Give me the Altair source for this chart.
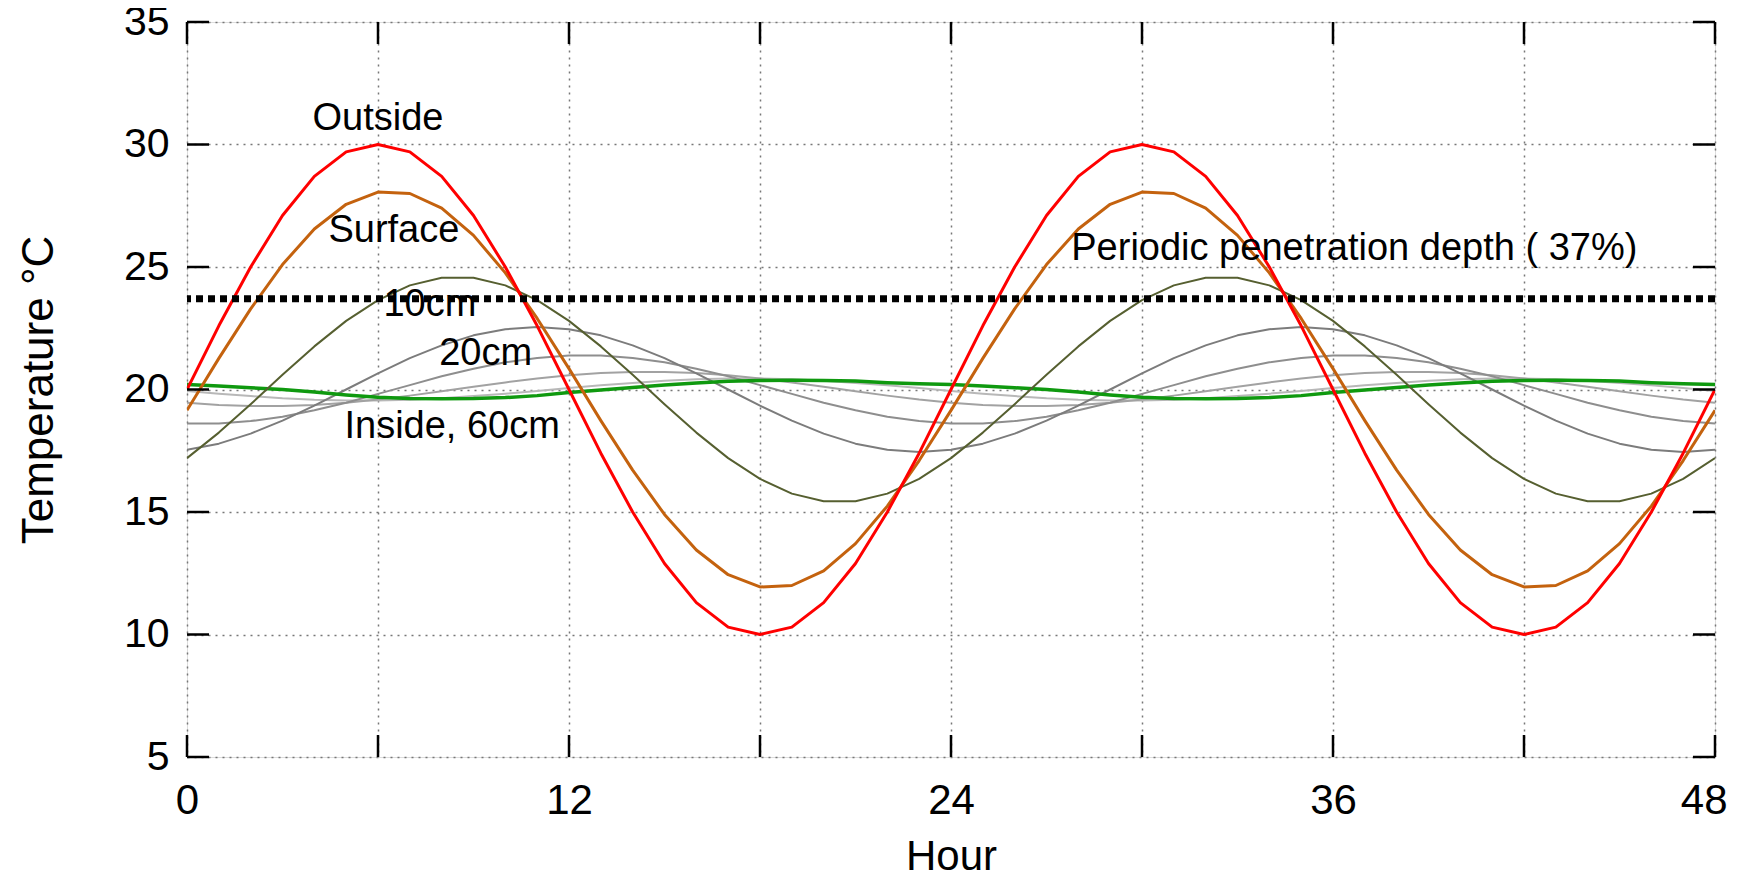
import altair as alt
import pandas as pd

# ---------------- data ----------------
hours = list(range(49))

outside = [20.0, 22.6, 25.0, 27.1, 28.7, 29.7, 30.0, 29.7, 28.7, 27.1, 25.0, 22.6,
           20.0, 17.4, 15.0, 12.9, 11.3, 10.3, 10.0, 10.3, 11.3, 12.9, 15.0, 17.4,
           20.0, 22.6, 25.0, 27.1, 28.7, 29.7, 30.0, 29.7, 28.7, 27.1, 25.0, 22.6,
           20.0, 17.4, 15.0, 12.9, 11.3, 10.3, 10.0, 10.3, 11.3, 12.9, 15.0, 17.4,
           20.0]

surface = [19.15, 21.27, 23.29, 25.10, 26.55, 27.56, 28.06, 28.00, 27.40, 26.29, 24.76, 22.90,
           20.85, 18.73, 16.71, 14.90, 13.45, 12.44, 11.94, 12.00, 12.60, 13.71, 15.24, 17.10,
           19.15, 21.27, 23.29, 25.10, 26.55, 27.56, 28.06, 28.00, 27.40, 26.29, 24.76, 22.90,
           20.85, 18.73, 16.71, 14.90, 13.45, 12.44, 11.94, 12.00, 12.60, 13.71, 15.24, 17.10,
           19.15]

cm10 = [17.20, 18.24, 19.40, 20.60, 21.76, 22.80, 23.65, 24.25, 24.56, 24.56, 24.25, 23.65,
        22.80, 21.76, 20.60, 19.40, 18.24, 17.20, 16.35, 15.75, 15.44, 15.44, 15.75, 16.35,
        17.20, 18.24, 19.40, 20.60, 21.76, 22.80, 23.65, 24.25, 24.56, 24.56, 24.25, 23.65,
        22.80, 21.76, 20.60, 19.40, 18.24, 17.20, 16.35, 15.75, 15.44, 15.44, 15.75, 16.35,
        17.20]

cm20 = [17.54, 17.79, 18.20, 18.73, 19.34, 20.00, 20.66, 21.28, 21.80, 22.21, 22.46, 22.55,
        22.46, 22.21, 21.80, 21.28, 20.66, 20.00, 19.34, 18.73, 18.20, 17.79, 17.54, 17.45,
        17.54, 17.79, 18.20, 18.73, 19.34, 20.00, 20.66, 21.28, 21.80, 22.21, 22.46, 22.55,
        22.46, 22.21, 21.80, 21.28, 20.66, 20.00, 19.34, 18.73, 18.20, 17.79, 17.54, 17.45,
        17.54]

cm30 = [18.61, 18.61, 18.71, 18.89, 19.15, 19.46, 19.82, 20.18, 20.54, 20.85, 21.11, 21.29,
        21.39, 21.39, 21.29, 21.11, 20.85, 20.54, 20.18, 19.82, 19.46, 19.15, 18.89, 18.71,
        18.61, 18.61, 18.71, 18.89, 19.15, 19.46, 19.82, 20.18, 20.54, 20.85, 21.11, 21.29,
        21.39, 21.39, 21.29, 21.11, 20.85, 20.54, 20.18, 19.82, 19.46, 19.15, 18.89, 18.71,
        18.61]

cm40 = [19.46, 19.37, 19.33, 19.33, 19.37, 19.46, 19.59, 19.75, 19.93, 20.11, 20.29, 20.45,
        20.58, 20.67, 20.71, 20.71, 20.67, 20.58, 20.45, 20.29, 20.11, 19.93, 19.75, 19.59,
        19.46, 19.37, 19.33, 19.33, 19.37, 19.46, 19.59, 19.75, 19.93, 20.11, 20.29, 20.45,
        20.58, 20.67, 20.71, 20.71, 20.67, 20.58, 20.45, 20.29, 20.11, 19.93, 19.75, 19.59,
        19.46]

cm50 = [19.94, 19.83, 19.73, 19.64, 19.58, 19.55, 19.55, 19.58, 19.64, 19.73, 19.83, 19.94,
        20.06, 20.17, 20.27, 20.36, 20.42, 20.45, 20.45, 20.42, 20.36, 20.27, 20.17, 20.06,
        19.94, 19.83, 19.73, 19.64, 19.58, 19.55, 19.55, 19.58, 19.64, 19.73, 19.83, 19.94,
        20.06, 20.17, 20.27, 20.36, 20.42, 20.45, 20.45, 20.42, 20.36, 20.27, 20.17, 20.06,
        19.94]

cm60 = [20.20, 20.14, 20.07, 20.00, 19.90, 19.78, 19.68, 19.63, 19.62, 19.63, 19.67, 19.75,
        19.88, 19.98, 20.08, 20.18, 20.27, 20.34, 20.37, 20.38, 20.37, 20.35, 20.28, 20.23,
        20.20, 20.14, 20.07, 20.00, 19.90, 19.78, 19.68, 19.63, 19.62, 19.63, 19.67, 19.75,
        19.88, 19.98, 20.08, 20.18, 20.27, 20.34, 20.37, 20.38, 20.37, 20.35, 20.28, 20.23,
        20.20]

penetration_level = [23.70]

label_text = ["Outside", "Surface", "10cm", "20cm", "Inside, 60cm",
              "Periodic penetration depth ( 37%)"]
label_hour = [6.0, 6.5, 7.63, 9.38, 8.33, 36.67]
label_temp = [31.05, 26.48, 23.43, 21.45, 18.48, 25.73]

x_ticks = [0, 6, 12, 18, 24, 30, 36, 42, 48]
y_ticks = [5, 10, 15, 20, 25, 30, 35]

# ---------------- styles ----------------
W, H = 1528, 735
FONT = "Liberation Sans"

series = [  # (values, colour, width) in drawing order
    (cm50, "#b8b8b8", 2.0),
    (cm40, "#a2a2a2", 2.0),
    (cm30, "#8e8e8e", 2.0),
    (cm20, "#7c7c7c", 2.0),
    (cm60, "#0f990f", 3.5),
    (cm10, "#565f30", 2.0),
    (surface, "#c4620e", 3.0),
    (outside, "#ff0000", 3.0),
]

xs = alt.Scale(domain=[0, 48], nice=False, zero=False)
ys = alt.Scale(domain=[5, 35], nice=False, zero=False)

x_axis = alt.Axis(values=x_ticks, title="Hour",
                  labelExpr="datum.value % 12 == 0 ? datum.label : ''",
                  labelAlign={"condition": {"test": "datum.value == 48", "value": "right"},
                              "value": "center"},
                  labelOffset={"condition": {"test": "datum.value == 48", "value": 12},
                               "value": 0},
                  grid=True, ticks=False, domain=False, labelFlush=False,
                  gridDash=[2, 5], gridColor="#777777", gridWidth=1.5,
                  labelFont=FONT, labelFontSize=42, labelColor="black", labelPadding=23,
                  titleFont=FONT, titleFontSize=42, titleColor="black",
                  titleFontWeight="normal", titlePadding=15)
y_axis = alt.Axis(values=y_ticks, title="Temperature °C",
                  grid=True, ticks=False, domain=False,
                  gridDash=[2, 5], gridColor="#777777", gridWidth=1.5,
                  labelFont=FONT, labelFontSize=41, labelColor="black", labelPadding=18,
                  titleFont=FONT, titleFontSize=44, titleColor="black",
                  titleFontWeight="normal", titlePadding=62)

X = alt.X("hour:Q", scale=xs, axis=x_axis)
Y = alt.Y("temp:Q", scale=ys, axis=y_axis)

layers = []
for vals, col, sw in series:
    df = pd.DataFrame({"hour": hours, "temp": vals})
    layers.append(alt.Chart(df).mark_line(color=col, strokeWidth=sw,
                                          strokeJoin="round", clip=True)
                  .encode(x=X, y=Y))

labels_df = pd.DataFrame({"hour": label_hour, "temp": label_temp, "text": label_text})
layers.append(alt.Chart(labels_df).mark_text(font=FONT, fontSize=38, color="black",
                                             align="center", baseline="middle")
              .encode(x=X, y=Y, text="text:N"))

pen_df = pd.DataFrame({"temp": penetration_level})
layers.append(alt.Chart(pen_df).mark_rule(color="black", strokeWidth=7,
                                          strokeDash=[7, 5])
              .encode(y=Y))

# inward tick marks on all four sides (gnuplot style)
xt_df = pd.DataFrame({"hour": x_ticks})
yt_df = pd.DataFrame({"temp": y_ticks})
TL = 22
layers.append(alt.Chart(xt_df).mark_rule(color="black", strokeWidth=2.5)
              .encode(x=X, y=alt.value(H), y2=alt.value(H - TL)))
layers.append(alt.Chart(xt_df).mark_rule(color="black", strokeWidth=2.5)
              .encode(x=X, y=alt.value(0), y2=alt.value(TL)))
layers.append(alt.Chart(yt_df).mark_rule(color="black", strokeWidth=2.5)
              .encode(y=Y, x=alt.value(0), x2=alt.value(TL)))
layers.append(alt.Chart(yt_df).mark_rule(color="black", strokeWidth=2.5)
              .encode(y=Y, x=alt.value(W), x2=alt.value(W - TL)))

chart = (alt.layer(*layers)
         .properties(width=W, height=H,
                     autosize=alt.AutoSizeParams(type="none"),
                     padding={"left": 179, "top": 14, "right": 22, "bottom": 123})
         .configure_view(stroke="black", strokeWidth=3)
         .configure(background="white"))

chart.save("out.html", embed_options={"renderer": "svg", "actions": False})
